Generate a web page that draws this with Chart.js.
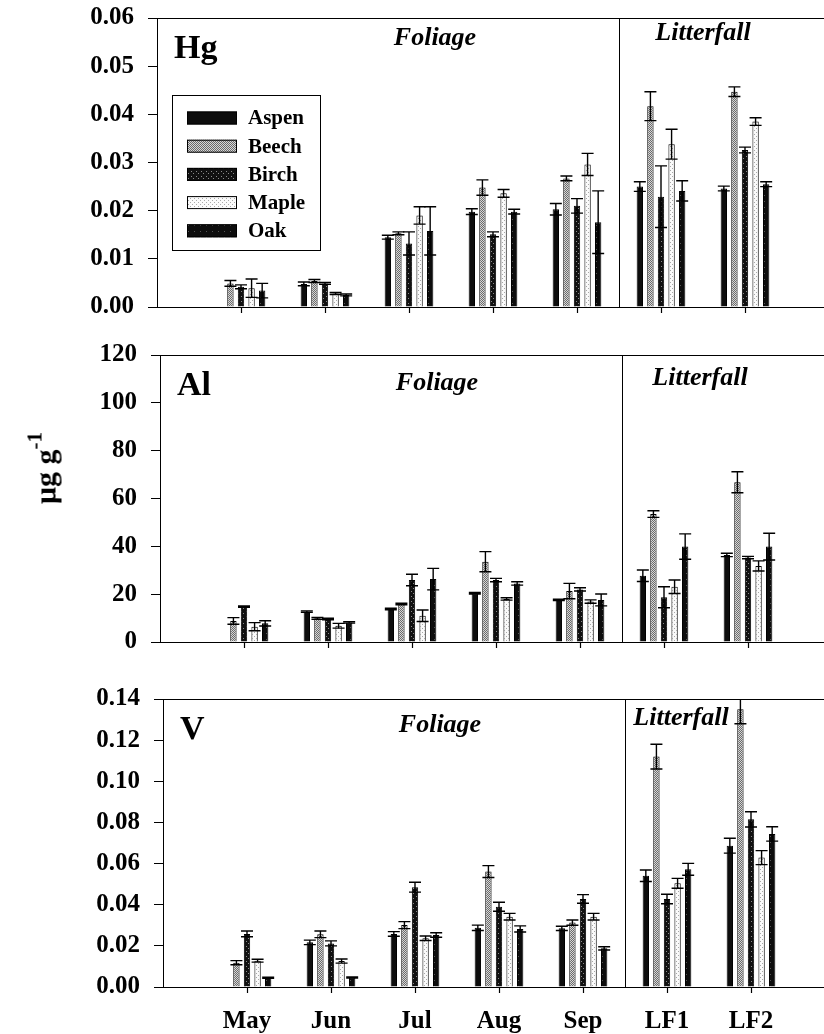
<!DOCTYPE html>
<html>
<head>
<meta charset="utf-8">
<script src="https://cdn.jsdelivr.net/npm/chart.js@4.4.1/dist/chart.umd.min.js"></script>
<style>
  html, body { margin: 0; padding: 0; background: #fff; overflow: hidden; }
  body { width: 824px; height: 1034px; position: relative; }
  canvas { position: absolute; left: 0; }
  #ylab {
    position: absolute; left: 44px; top: 468px;
    transform: translate(-50%, -50%) rotate(-90deg);
    font: bold 30px 'Liberation Serif', serif; white-space: nowrap; color: #000;
  }
  #ylab sup { font-size: 21px; position: relative; top: -3px; }
</style>
</head>
<body>
<canvas id="hg" width="860" height="330" style="top:0"></canvas>
<canvas id="al" width="860" height="335" style="top:330px"></canvas>
<canvas id="v" width="860" height="369" style="top:665px"></canvas>
<div id="ylab">&mu;g g<sup>-1</sup></div>
<script>
const categories = ['May', 'Jun', 'Jul', 'Aug', 'Sep', 'LF1', 'LF2'];
const species = ['Aspen', 'Beech', 'Birch', 'Maple', 'Oak'];

// rows: Aspen, Beech, Birch, Maple, Oak
const hgMean = [
  [null, 0.0048, 0.0145, 0.0198, 0.0203, 0.0250, 0.0246],
  [0.0049, 0.0054, 0.0153, 0.0248, 0.0267, 0.0417, 0.0447],
  [0.0042, 0.0049, 0.0132, 0.0151, 0.0210, 0.0229, 0.0326],
  [0.0039, 0.0028, 0.0190, 0.0236, 0.0296, 0.0338, 0.0385],
  [0.0034, 0.0025, 0.0158, 0.0198, 0.0176, 0.0241, 0.0255]
];
const hgErr = [
  [null, 0.0004, 0.0004, 0.0006, 0.0012, 0.0010, 0.0005],
  [0.0006, 0.0003, 0.0003, 0.0016, 0.0005, 0.0030, 0.0010],
  [0.0004, 0.0002, 0.0024, 0.0005, 0.0015, 0.0064, 0.0006],
  [0.0019, 0.0002, 0.0018, 0.0008, 0.0023, 0.0031, 0.0008],
  [0.0015, 0.0002, 0.0050, 0.0005, 0.0065, 0.0021, 0.0005]
];

const alMean = [
  [null, 12.7, 13.8, 20.4, 17.6, 27.7, 36.4],
  [8.8, 9.9, 15.9, 33.6, 21.3, 53.5, 66.8],
  [14.8, 9.6, 25.9, 25.9, 22.0, 18.7, 35.3],
  [6.4, 6.8, 11.0, 18.0, 16.9, 23.1, 31.8],
  [7.8, 8.2, 26.3, 24.5, 17.6, 39.9, 39.9]
];
const alErr = [
  [null, 0.3, 0.3, 0.3, 0.3, 2.4, 0.7],
  [1.4, 0.4, 0.3, 4.2, 3.2, 1.4, 4.4],
  [0.3, 0.3, 2.4, 0.7, 0.7, 4.4, 0.5],
  [1.7, 1.0, 2.4, 0.5, 0.7, 2.8, 2.1],
  [1.1, 0.3, 4.5, 0.7, 2.5, 5.3, 5.6]
];

const vMean = [
  [null, 0.0217, 0.0258, 0.0288, 0.0285, 0.0541, 0.0687],
  [0.0118, 0.0256, 0.0301, 0.0561, 0.0313, 0.1120, 0.1350],
  [0.0258, 0.0212, 0.0485, 0.0390, 0.0428, 0.0428, 0.0815],
  [0.0128, 0.0126, 0.0237, 0.0342, 0.0342, 0.0504, 0.0629],
  [0.0045, 0.0046, 0.0253, 0.0282, 0.0188, 0.0572, 0.0744]
];
const vErr = [
  [null, 0.0011, 0.0011, 0.0013, 0.0010, 0.0028, 0.0036],
  [0.0010, 0.0016, 0.0017, 0.0029, 0.0013, 0.0060, 0.0070],
  [0.0014, 0.0012, 0.0024, 0.0022, 0.0021, 0.0023, 0.0037],
  [0.0007, 0.0010, 0.0011, 0.0016, 0.0016, 0.0024, 0.0034],
  [0.0003, 0.0003, 0.0011, 0.0015, 0.0008, 0.0029, 0.0035]
];

const serif = "'Liberation Serif', 'Times New Roman', serif";

// little stipple patterns like the printed figure
function pattern(bg, dot, size, dots) {
  const c = document.createElement('canvas');
  c.width = size; c.height = size;
  const g = c.getContext('2d');
  g.fillStyle = bg; g.fillRect(0, 0, size, size);
  g.fillStyle = dot;
  dots.forEach(d => g.fillRect(d[0], d[1], 1, 1));
  return g.createPattern(c, 'repeat');
}
const fills = [
  '#0d0d0d',
  pattern('#d8d8d8', '#6a6a6a', 2, [[0, 0], [1, 1]]),
  pattern('#111', '#8a8a8a', 5, [[1, 1], [3, 3]]),
  pattern('#fafafa', '#a8a8a8', 4, [[0, 0], [2, 2]]),
  pattern('#0d0d0d', '#555', 6, [[2, 3]])
];

const errorBars = {
  id: 'errorBars',
  afterDatasetsDraw(chart) {
    const ctx = chart.ctx, ys = chart.scales.y, a = chart.chartArea;
    ctx.save();
    ctx.beginPath();
    ctx.rect(a.left, a.top, a.right - a.left, a.bottom - a.top);
    ctx.clip();
    ctx.strokeStyle = '#000';
    ctx.lineWidth = 1.4;
    chart.data.datasets.forEach((ds, i) => {
      chart.getDatasetMeta(i).data.forEach((bar, j) => {
        const v = ds.data[j], e = ds.errors[j];
        if (v == null || e == null) return;
        const hi = ys.getPixelForValue(v + e), lo = ys.getPixelForValue(v - e);
        const x = bar.x, w = 6;
        ctx.beginPath();
        ctx.moveTo(x, lo); ctx.lineTo(x, hi);
        ctx.moveTo(x - w, hi); ctx.lineTo(x + w, hi);
        ctx.moveTo(x - w, lo); ctx.lineTo(x + w, lo);
        ctx.stroke();
      });
    });
    ctx.restore();
  }
};

const panelDecor = {
  id: 'panelDecor',
  afterDraw(chart, args, o) {
    const ctx = chart.ctx, a = chart.chartArea, xs = chart.scales.x;
    ctx.save();
    ctx.strokeStyle = '#000';
    ctx.lineWidth = 1;
    ctx.beginPath();
    ctx.moveTo(a.left, a.top + 0.5); ctx.lineTo(a.right, a.top + 0.5);
    const dx = Math.round(xs.getPixelForValue(5.5)) + 0.5;
    ctx.moveTo(dx, a.top); ctx.lineTo(dx, a.bottom);
    ctx.stroke();

    // category tick marks below the axis
    ctx.lineWidth = 1.2;
    for (let i = 1; i <= categories.length; i++) {
      const tx = Math.round(xs.getPixelForValue(i)) + 0.5;
      ctx.beginPath();
      ctx.moveTo(tx, a.bottom);
      ctx.lineTo(tx, a.bottom + 6);
      ctx.stroke();
    }

    ctx.fillStyle = '#000';
    ctx.textBaseline = 'alphabetic';
    ctx.textAlign = 'left';
    ctx.font = 'bold 34px ' + serif;
    ctx.fillText(o.name, a.left + 17, a.top + 40);
    ctx.textAlign = 'center';
    ctx.font = 'italic bold 26px ' + serif;
    ctx.fillText('Foliage', a.left + o.foliage[0], a.top + o.foliage[1]);
    ctx.fillText('Litterfall', a.left + o.litter[0], a.top + o.litter[1]);

    if (o.legend) {
      const bx = a.left + 15, by = a.top + 77;
      ctx.lineWidth = 1;
      ctx.strokeRect(bx + 0.5, by + 0.5, 148, 155);
      ctx.font = 'bold 21px ' + serif;
      ctx.textAlign = 'left';
      ctx.textBaseline = 'middle';
      chart.data.datasets.forEach((ds, i) => {
        const cy = by + 23 + i * 28.2;
        ctx.fillStyle = ds.backgroundColor;
        ctx.fillRect(bx + 15, cy - 6.5, 50, 13);
        ctx.strokeRect(bx + 15.5, cy - 6, 49, 12);
        ctx.fillStyle = '#000';
        ctx.fillText(ds.label, bx + 76, cy + 1);
      });
    }
    ctx.restore();
  }
};

function makeChart(id, means, errs, cfg) {
  const labels = [''].concat(categories, ['']);
  return new Chart(document.getElementById(id), {
    type: 'bar',
    data: {
      labels: labels,
      datasets: species.map((name, i) => ({
        label: name,
        data: [null].concat(means[i], [null]),
        errors: [null].concat(errs[i], [null]),
        backgroundColor: fills[i],
        borderColor: '#000',
        borderWidth: 1
      }))
    },
    options: {
      responsive: false,
      animation: false,
      devicePixelRatio: 1,
      layout: { padding: { top: cfg.top, right: cfg.right, left: 0, bottom: 0 } },
      categoryPercentage: 0.63,
      barPercentage: 0.6,
      plugins: {
        legend: { display: false },
        tooltip: { enabled: false },
        panelDecor: cfg.decor
      },
      scales: {
        x: {
          offset: false,
          afterFit: s => { s.height = cfg.xHeight; s.paddingLeft = 0; s.paddingRight = 0; },
          grid: { display: false, drawOnChartArea: false, drawTicks: false },
          border: { display: true, color: '#000', width: 1 },
          ticks: {
            display: cfg.showX,
            autoSkip: false, maxRotation: 0, padding: 20,
            color: '#000', font: { family: serif, size: 25, weight: 'bold' }
          }
        },
        y: {
          min: 0, max: cfg.max,
          afterFit: s => { s.width = cfg.left; s.paddingTop = 0; s.paddingBottom = 0; },
          grid: { drawOnChartArea: false, color: '#000', tickLength: 9 },
          border: { color: '#000', width: 1 },
          ticks: {
            stepSize: cfg.step, padding: 14, color: '#000',
            font: { family: serif, size: 25, weight: 'bold' },
            callback: v => v.toFixed(cfg.digits)
          }
        }
      }
    },
    plugins: [errorBars, panelDecor]
  });
}

makeChart('hg', hgMean, hgErr, {
  top: 18, right: 31, left: 157, xHeight: 23, max: 0.06, step: 0.01, digits: 2, showX: false,
  decor: { name: 'Hg', foliage: [278, 27], litter: [546, 22], legend: true }
});
makeChart('al', alMean, alErr, {
  top: 25, right: 28, left: 160, xHeight: 23, max: 120, step: 20, digits: 0, showX: false,
  decor: { name: 'Al', foliage: [277, 35], litter: [540, 30], legend: false }
});
makeChart('v', vMean, vErr, {
  top: 34, right: 25, left: 163, xHeight: 47, max: 0.14, step: 0.02, digits: 2, showX: true,
  decor: { name: 'V', foliage: [277, 33], litter: [518, 26], legend: false }
});
</script>
</body>
</html>
